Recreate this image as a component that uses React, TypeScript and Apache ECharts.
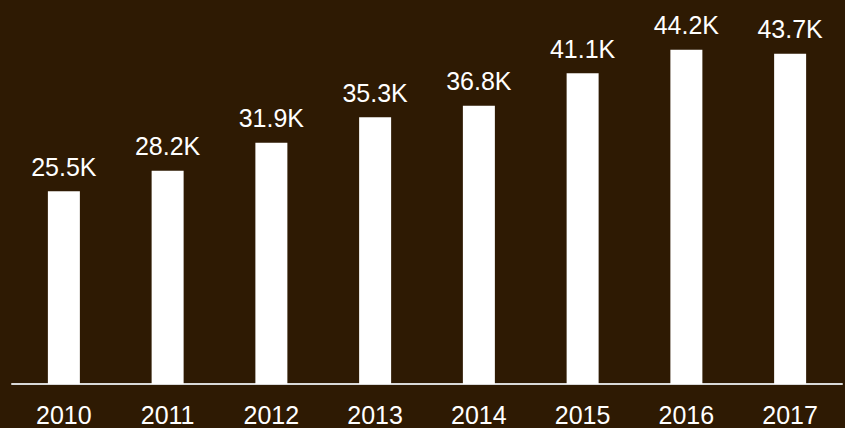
import React, { useEffect, useRef } from "react";
import * as echarts from "echarts";

const categories = ["2010", "2011", "2012", "2013", "2014", "2015", "2016", "2017"];
const values = [25500, 28200, 31900, 35300, 36800, 41100, 44200, 43700];

export default function App() {
  const ref = useRef<HTMLDivElement>(null);
  useEffect(() => {
    if (!ref.current) return;
    const chart = echarts.init(ref.current, null, { renderer: "svg" });
    chart.setOption({
      animation: false,
      backgroundColor: "#2e1a03",
      grid: { left: 12, right: 3, top: 6, bottom: 44, containLabel: false },
      xAxis: {
        type: "category",
        data: categories,
        axisLine: { show: true, lineStyle: { color: "#d9d9d9", width: 2 } },
        axisTick: { show: false },
        axisLabel: {
          color: "#ffffff",
          fontSize: 25,
          fontFamily: "Liberation Sans, Arial, sans-serif",
          margin: 18,
        },
      },
      yAxis: {
        type: "value",
        min: 0,
        max: 50000,
        show: false,
        splitLine: { show: false },
      },
      series: [
        {
          type: "bar",
          data: values,
          barWidth: 32,
          itemStyle: { color: "#ffffff" },
          label: {
            show: true,
            position: "top",
            distance: 12,
            color: "#ffffff",
            fontSize: 25,
            fontFamily: "Liberation Sans, Arial, sans-serif",
            formatter: (p: any) => (p.value / 1000).toFixed(1) + "K",
          },
        },
      ],
    });
    return () => chart.dispose();
  }, []);
  return <div ref={ref} style={{ width: 845, height: 428, position: "fixed", left: 0, top: 0 }} />;
}
